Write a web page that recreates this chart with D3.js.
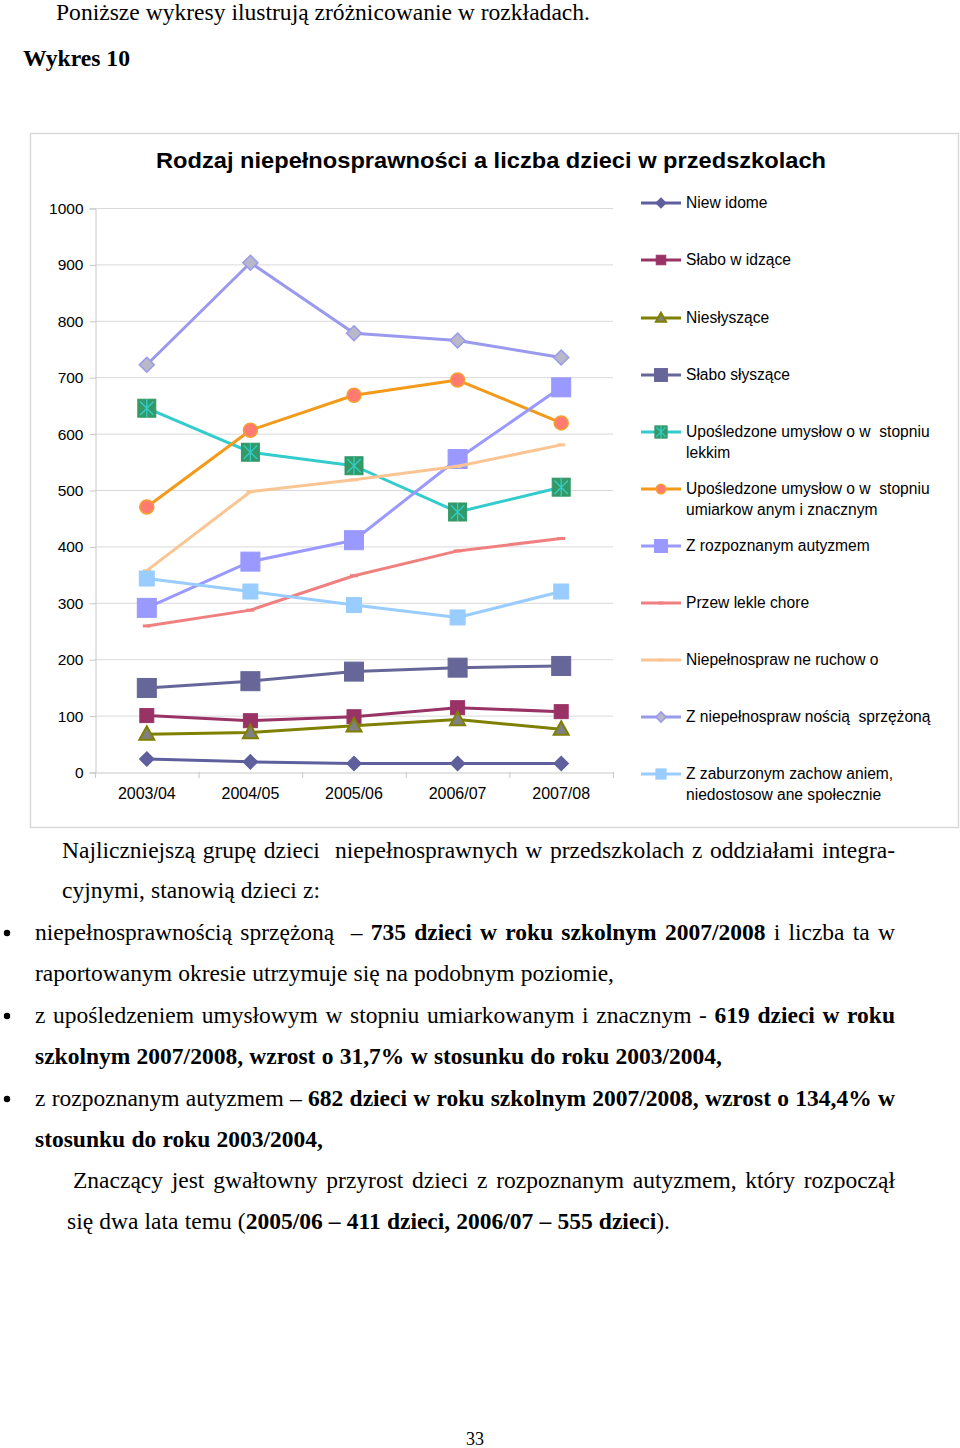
<!DOCTYPE html>
<html><head><meta charset="utf-8">
<script src="https://cdn.jsdelivr.net/npm/d3@7"></script>
<style>body{margin:0;background:#fff}svg{display:block}</style>
</head><body>
<svg id="c" width="960" height="1448"></svg>
<script>
const categories = ["2003/04","2004/05","2005/06","2006/07","2007/08"];
const yTicks = [0,100,200,300,400,500,600,700,800,900,1000];
const seriesNames = [
  ["Niew idome"],
  ["Słabo w idzące"],
  ["Niesłyszące"],
  ["Słabo słyszące"],
  ["Upośledzone umysłow o w  stopniu","lekkim"],
  ["Upośledzone umysłow o w  stopniu","umiarkow anym i znacznym"],
  ["Z rozpoznanym autyzmem"],
  ["Przew lekle chore"],
  ["Niepełnospraw ne ruchow o"],
  ["Z niepełnospraw nością  sprzężoną"],
  ["Z zaburzonym zachow aniem,","niedostosow ane społecznie"]
];
const niewidome   = [23, 18, 15, 15, 15];
const slaboWidzace = [100, 91, 98, 114, 107];
const nieslyszace = [67, 70, 82, 93, 76];
const slaboSlyszace = [149, 161, 178, 185, 188];
const lekkim      = [645, 567, 543, 461, 505];
const umiarkowanym = [470, 606, 668, 695, 619];
const autyzm      = [291, 373, 411, 555, 682];
const przewlekle  = [259, 287, 348, 392, 414];
const ruchowo     = [357, 497, 518, 542, 580];
const sprzezona   = [722, 903, 778, 765, 735];
const zaburzone   = [343, 320, 296, 274, 320];
const seriesValues = [niewidome, slaboWidzace, nieslyszace, slaboSlyszace, lekkim, umiarkowanym, autyzm, przewlekle, ruchowo, sprzezona, zaburzone];

// styles: line colour, marker type, marker fill, marker stroke, size
const styles = [
  {c:"#5f5f9d", m:"diamond", f:"#5f5f9d", s:"#5f5f9d", z:14},
  {c:"#993366", m:"square", f:"#993366", s:"#993366", z:14},
  {c:"#808000", m:"triangle", f:"#808080", s:"#808000", z:15},
  {c:"#666699", m:"square", f:"#666699", s:"#666699", z:19},
  {c:"#33cccc", m:"xsquare", f:"#339966", s:"#33cccc", z:18},
  {c:"#f39a1a", m:"circle", f:"#ff7b6f", s:"#f5a030", z:14},
  {c:"#9999ff", m:"square", f:"#9999ff", s:"#9999ff", z:19},
  {c:"#f08080", m:"dash", f:"#f08080", s:"#f08080", z:8},
  {c:"#fac592", m:"dash", f:"#fac592", s:"#fac592", z:8},
  {c:"#9999ee", m:"diamond", f:"#b8b8c8", s:"#9999ee", z:15},
  {c:"#99ccff", m:"square", f:"#99ccff", s:"#99ccff", z:15}
];

const svg = d3.select("#c");
const serif = "'Liberation Serif','Times New Roman',serif";
const sans = "'Liberation Sans',Arial,sans-serif";

// page text top
svg.append("text").attr("x",56).attr("y",20).attr("font-family",serif).attr("font-size",23.5)
  .attr("textLength",534).attr("lengthAdjust","spacingAndGlyphs")
  .text("Poniższe wykresy ilustrują zróżnicowanie w rozkładach.");
svg.append("text").attr("x",23).attr("y",66).attr("font-family",serif).attr("font-size",23.5).attr("font-weight","bold")
  .attr("textLength",107).attr("lengthAdjust","spacingAndGlyphs")
  .text("Wykres 10");

// chart box
svg.append("rect").attr("x",30.5).attr("y",133.5).attr("width",928).attr("height",694)
  .attr("fill","#fff").attr("stroke","#d9d9d9").attr("stroke-width",1.5);

svg.append("text").attr("x",491).attr("y",168).attr("text-anchor","middle")
  .attr("font-family",sans).attr("font-size",22).attr("font-weight","bold").attr("fill","#000")
  .attr("textLength",670).attr("lengthAdjust","spacingAndGlyphs")
  .text("Rodzaj niepełnosprawności a liczba dzieci w przedszkolach");

const x = d3.scaleBand().domain(categories).range([95,613]);
const y = d3.scaleLinear().domain([0,1000]).range([772,208]);

// gridlines
svg.append("g").selectAll("line").data(yTicks.filter(d=>d>0)).join("line")
  .attr("x1",95).attr("x2",613).attr("y1",d=>y(d)+0.5).attr("y2",d=>y(d)+0.5)
  .attr("stroke","#d9d9d9").attr("stroke-width",1);

// y axis
const yAxis = svg.append("g").attr("transform","translate(95.5,0.5)")
  .call(d3.axisLeft(y).tickValues(yTicks).tickSize(6).tickPadding(6).tickFormat(d3.format("d")));
yAxis.select(".domain").attr("stroke","#c8c8c8");
yAxis.selectAll(".tick line").attr("stroke","#c8c8c8");
yAxis.selectAll("text").attr("font-family",sans).attr("font-size",15.5).attr("fill","#000");

// x axis
const xAxis = svg.append("g").attr("transform","translate(0,772.5)")
  .call(d3.axisBottom(x).tickSize(0).tickPadding(15));
xAxis.select(".domain").attr("stroke","#c8c8c8");
xAxis.selectAll("text").attr("font-family",sans).attr("font-size",16).attr("fill","#000");
svg.append("g").selectAll("line").data(categories.concat(["_end"])).join("line")
  .attr("x1",(d,i)=>95+i*x.bandwidth()+0.5).attr("x2",(d,i)=>95+i*x.bandwidth()+0.5)
  .attr("y1",772).attr("y2",778).attr("stroke","#c8c8c8");

function drawMarker(g, st, cx, cy, scale) {
  const z = st.z*(scale||1);
  const h = z/2;
  if (st.m==="square") {
    g.append("rect").attr("x",cx-h).attr("y",cy-h).attr("width",z).attr("height",z)
      .attr("fill",st.f).attr("stroke",st.s).attr("stroke-width",1);
  } else if (st.m==="xsquare") {
    g.append("rect").attr("x",cx-h).attr("y",cy-h).attr("width",z).attr("height",z)
      .attr("fill",st.f).attr("stroke",st.f).attr("stroke-width",1);
    const k=h*0.75;
    g.append("path").attr("d",`M${cx-k},${cy-k}L${cx+k},${cy+k}M${cx-k},${cy+k}L${cx+k},${cy-k}M${cx},${cy-h}L${cx},${cy+h}`)
      .attr("stroke",st.s).attr("stroke-width",1.3).attr("fill","none");
  } else if (st.m==="diamond") {
    g.append("path").attr("d",`M${cx},${cy-h}L${cx+h},${cy}L${cx},${cy+h}L${cx-h},${cy}Z`)
      .attr("fill",st.f).attr("stroke",st.s).attr("stroke-width",1.5);
  } else if (st.m==="triangle") {
    g.append("path").attr("d",`M${cx},${cy-h*1.05}L${cx+h},${cy+h*0.75}L${cx-h},${cy+h*0.75}Z`)
      .attr("fill",st.f).attr("stroke",st.s).attr("stroke-width",2);
  } else if (st.m==="circle") {
    g.append("circle").attr("cx",cx).attr("cy",cy).attr("r",h)
      .attr("fill",st.f).attr("stroke",st.s).attr("stroke-width",1.5);
  } else if (st.m==="dash") {
    g.append("line").attr("x1",cx-h).attr("x2",cx+h).attr("y1",cy).attr("y2",cy)
      .attr("stroke",st.s).attr("stroke-width",3);
  }
}

const line = d3.line().x((d,i)=>x(categories[i])+x.bandwidth()/2).y(d=>y(d));
seriesValues.forEach((vals,si)=>{
  const st = styles[si];
  const g = svg.append("g");
  g.append("path").attr("d",line(vals)).attr("fill","none").attr("stroke",st.c)
    .attr("stroke-width",3).attr("stroke-linejoin","round");
  vals.forEach((v,i)=>drawMarker(g, st, x(categories[i])+x.bandwidth()/2, y(v)));
});

// legend
const legendY = [203,260,318,375,432,489,546,603,660,717,774];
seriesNames.forEach((lines,i)=>{
  const st = styles[i];
  const g = svg.append("g");
  const cy = legendY[i];
  g.append("line").attr("x1",641).attr("x2",681).attr("y1",cy).attr("y2",cy)
    .attr("stroke",st.c).attr("stroke-width",3);
  drawMarker(g, st, 661, cy, 0.68);
  lines.forEach((t,j)=>{
    g.append("text").attr("x",686).attr("y",cy+5+j*20.5).attr("font-family",sans)
      .attr("font-size",15.6).attr("fill","#000").attr("xml:space","preserve")
      .style("white-space","pre").text(t);
  });
});

// body text
const bodyLines = [
  {x:62, y:858, end:895, parts:[["Najliczniejszą grupę dzieci  niepełnosprawnych w przedszkolach z oddziałami integra-",0]]},
  {x:62, y:898, end:320, parts:[["cyjnymi, stanowią dzieci z:",0]]},
  {x:35, y:940, end:895, bullet:true, parts:[["niepełnosprawnością sprzężoną  – ",0],["735 dzieci w roku szkolnym 2007/2008",1],[" i liczba ta w",0]]},
  {x:35, y:981, end:614, parts:[["raportowanym okresie utrzymuje się na podobnym poziomie,",0]]},
  {x:35, y:1023, end:895, bullet:true, parts:[["z upośledzeniem umysłowym w stopniu umiarkowanym i znacznym - ",0],["619 dzieci w roku",1]]},
  {x:35, y:1064, end:722, parts:[["szkolnym 2007/2008, wzrost o 31,7% w stosunku do roku 2003/2004,",1]]},
  {x:35, y:1106, end:895, bullet:true, parts:[["z rozpoznanym autyzmem – ",0],["682 dzieci w roku szkolnym 2007/2008, wzrost o 134,4% w",1]]},
  {x:35, y:1147, end:323, parts:[["stosunku do roku 2003/2004,",1]]},
  {x:73, y:1188, end:895, parts:[["Znaczący jest gwałtowny przyrost dzieci z rozpoznanym autyzmem, który rozpoczął",0]]},
  {x:67, y:1229, end:670, parts:[["się dwa lata temu (",0],["2005/06 – 411 dzieci, 2006/07 – 555 dzieci",1],[").",0]]}
];
bodyLines.forEach(L=>{
  const t = svg.append("text").attr("x",L.x).attr("y",L.y).attr("font-family",serif)
    .attr("font-size",23.5).attr("fill","#000").attr("xml:space","preserve").style("white-space","pre");
  L.parts.forEach(p=>{
    t.append("tspan").attr("font-weight",p[1]?"bold":"normal").text(p[0]);
  });
  if (L.end) {
    const w = t.node().getComputedTextLength();
    const full = L.parts.map(p=>p[0]).join("");
    const spaces = (full.match(/ /g)||[]).length;
    const extra = (L.end - L.x - w)/spaces;
    t.attr("word-spacing", extra);
  }
  if (L.bullet) {
    svg.append("circle").attr("cx",7).attr("cy",L.y-7).attr("r",3.2).attr("fill","#000");
  }
});

svg.append("text").attr("x",475).attr("y",1445).attr("text-anchor","middle").attr("font-family",serif)
  .attr("font-size",18).text("33");
</script>
</body></html>
